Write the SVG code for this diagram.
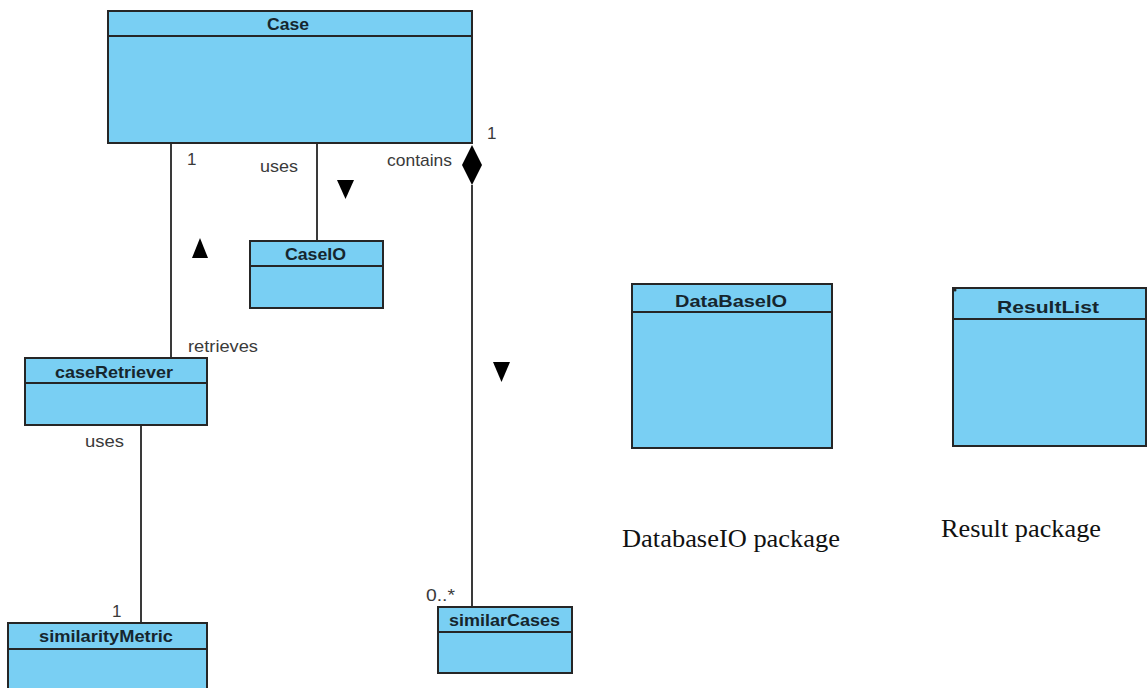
<svg xmlns="http://www.w3.org/2000/svg" width="1147" height="688" viewBox="0 0 1147 688">
  <style>
    .cls { fill: #79cff3; stroke: #262626; stroke-width: 2; }
    .div { stroke: #262626; stroke-width: 2; }
    .name { font-family: "Liberation Sans", Arial, sans-serif; font-weight: bold; font-size: 17px; fill: #16262e; text-anchor: middle; }
    .lbl { font-family: "Liberation Sans", Arial, sans-serif; font-size: 17px; fill: #3a3a3a; }
    .edge { stroke: #3a3a3a; stroke-width: 2; fill: none; }
    .tri { fill: #000; }
    .cap { font-family: "Liberation Serif", "Times New Roman", serif; font-size: 26px; fill: #111; }
  </style>

  <!-- associations -->
  <g id="connectors">
    <line class="edge" x1="171" y1="143" x2="171" y2="358"/>
    <line class="edge" x1="317" y1="143" x2="317" y2="241"/>
    <line class="edge" x1="472" y1="185" x2="472" y2="607"/>
    <line class="edge" x1="141" y1="425" x2="141" y2="623"/>
    <!-- composition diamond on Case -->
    <polygon points="472,145 482,165 472,185 462,165" fill="#000"/>
    <!-- reading-direction arrows -->
    <polygon class="tri" points="192,258 208,258 200,238"/>
    <polygon class="tri" points="337,180 354,180 345.5,199"/>
    <polygon class="tri" points="493,362 510,362 501.5,382"/>
    <!-- association labels and multiplicities -->
    <text class="lbl" x="187" y="165">1</text>
    <text class="lbl" x="260" y="172" textLength="38" lengthAdjust="spacingAndGlyphs">uses</text>
    <text class="lbl" x="387" y="166" textLength="65" lengthAdjust="spacingAndGlyphs">contains</text>
    <text class="lbl" x="487" y="139">1</text>
    <text class="lbl" x="188" y="352" textLength="70" lengthAdjust="spacingAndGlyphs">retrieves</text>
    <text class="lbl" x="85" y="447" textLength="39" lengthAdjust="spacingAndGlyphs">uses</text>
    <text class="lbl" x="112" y="617">1</text>
    <text class="lbl" x="426" y="601" textLength="29" lengthAdjust="spacingAndGlyphs">0..*</text>
  </g>

  <g id="case">
    <rect class="cls" x="108" y="11" width="364" height="132"/>
    <line class="div" x1="108" y1="36" x2="472" y2="36"/>
    <text class="name" x="288" y="30" textLength="42" lengthAdjust="spacingAndGlyphs">Case</text>
  </g>

  <g id="caseIO">
    <rect class="cls" x="250" y="241" width="133" height="67"/>
    <line class="div" x1="250" y1="266" x2="383" y2="266"/>
    <text class="name" x="315.5" y="260" textLength="61" lengthAdjust="spacingAndGlyphs">CaseIO</text>
  </g>

  <g id="caseRetriever">
    <rect class="cls" x="25" y="358" width="182" height="67"/>
    <line class="div" x1="25" y1="383" x2="207" y2="383"/>
    <text class="name" x="114" y="378" textLength="118" lengthAdjust="spacingAndGlyphs">caseRetriever</text>
  </g>

  <g id="similarityMetric">
    <rect class="cls" x="8" y="623" width="199" height="80"/>
    <line class="div" x1="8" y1="649" x2="207" y2="649"/>
    <text class="name" x="106" y="642" textLength="134" lengthAdjust="spacingAndGlyphs">similarityMetric</text>
  </g>

  <g id="similarCases">
    <rect class="cls" x="438" y="607" width="134" height="66"/>
    <line class="div" x1="438" y1="632" x2="572" y2="632"/>
    <text class="name" x="504.5" y="626" textLength="111" lengthAdjust="spacingAndGlyphs">similarCases</text>
  </g>

  <g id="dataBaseIO">
    <rect class="cls" x="632" y="284" width="200" height="164"/>
    <line class="div" x1="632" y1="312" x2="832" y2="312"/>
    <text class="name" x="731" y="307" font-size="19" textLength="112" lengthAdjust="spacingAndGlyphs">DataBaseIO</text>
  </g>

  <g id="resultList">
    <rect class="cls" x="953" y="288" width="193" height="158"/>
    <line class="div" x1="953" y1="319" x2="1146" y2="319"/>
    <circle cx="955" cy="290" r="1.5" fill="#262626"/>
    <text class="name" x="1048" y="313" font-size="19" textLength="102" lengthAdjust="spacingAndGlyphs">ResultList</text>
  </g>

  <g id="captions">
    <text class="cap" x="622" y="547" textLength="218" lengthAdjust="spacingAndGlyphs">DatabaseIO package</text>
    <text class="cap" x="941" y="537" textLength="160" lengthAdjust="spacingAndGlyphs">Result package</text>
  </g>
</svg>
